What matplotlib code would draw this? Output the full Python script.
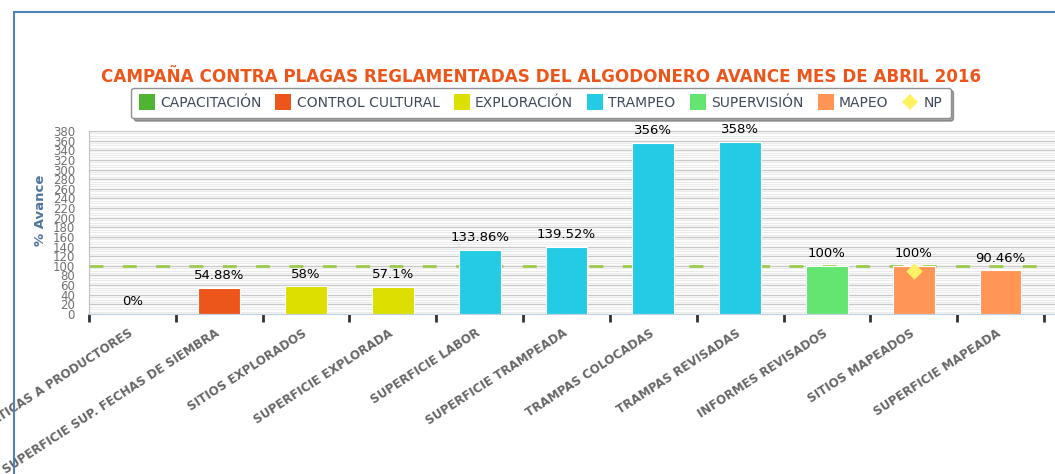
import matplotlib
matplotlib.use("Agg")
import matplotlib.pyplot as plt
from matplotlib.patches import Rectangle
from matplotlib.lines import Line2D
import numpy as np

categories = ["PLATICAS A PRODUCTORES", "SUPERFICIE SUP. FECHAS DE SIEMBRA",
              "SITIOS EXPLORADOS", "SUPERFICIE EXPLORADA", "SUPERFICIE LABOR",
              "SUPERFICIE TRAMPEADA", "TRAMPAS COLOCADAS", "TRAMPAS REVISADAS",
              "INFORMES REVISADOS", "SITIOS MAPEADOS", "SUPERFICIE MAPEADA"]
values = [0, 54.88, 58, 57.1, 133.86, 139.52, 356, 358, 100, 100, 90.46]
value_labels = ["0%", "54.88%", "58%", "57.1%", "133.86%", "139.52%", "356%",
                "358%", "100%", "100%", "90.46%"]
series_of = ["CAPACITACIÓN", "CONTROL CULTURAL", "EXPLORACIÓN", "EXPLORACIÓN",
             "TRAMPEO", "TRAMPEO", "TRAMPEO", "TRAMPEO", "SUPERVISIÓN",
             "MAPEO", "MAPEO"]
series_names = ["CAPACITACIÓN", "CONTROL CULTURAL", "EXPLORACIÓN", "TRAMPEO",
                "SUPERVISIÓN", "MAPEO", "NP"]
series_colors = {"CAPACITACIÓN": "#50B432", "CONTROL CULTURAL": "#ED561B",
                 "EXPLORACIÓN": "#DDDF00", "TRAMPEO": "#24CBE5",
                 "SUPERVISIÓN": "#64E572", "MAPEO": "#FF9655", "NP": "#FFF263"}
np_category = 9
np_value = 90
target = 100
yticks = list(range(0, 381, 20))

W, H = 1055, 474
fig = plt.figure(figsize=(W / 100, H / 100), dpi=100)

# outer frame (blue)
fig.patches.append(Rectangle((14 / W, -0.1), 2, (H - 12) / H + 0.1,
                             transform=fig.transFigure, fill=False,
                             edgecolor="#4F81BD", linewidth=1.5))

left, right, top, bottom = 89, 1055, 131, 314
ax = fig.add_axes([left / W, (H - bottom) / H, (right - left) / W, (bottom - top) / H])

n = len(categories)
ax.set_xlim(-0.5, n - 0.5 + 11 / 86.8)
ax.set_ylim(0, 380)

# gridlines
for y in np.arange(0, 381, 5):
    if y % 20 != 0:
        ax.axhline(y, color="#EBEBEB", linewidth=0.8, zorder=0)
for y in yticks:
    ax.axhline(y, color="#C8C8C8", linewidth=1.0, zorder=0.5)

x = np.arange(n)
colors = [series_colors[s] for s in series_of]
ax.bar(x, values, width=0.48, color=colors, edgecolor="white", linewidth=0.8, zorder=2)

ax.axhline(target, color="#9CCB4A", linewidth=2, linestyle=(0, (5, 7)), zorder=1.5)

for xi, v, lab in zip(x, values, value_labels):
    ax.annotate(lab, (xi, v), xytext=(0, 4), textcoords="offset points",
                ha="center", va="bottom", fontsize=9.5, color="black", zorder=4)

ax.scatter([np_category], [np_value], marker="D", s=70, color=series_colors["NP"],
           zorder=5, linewidths=0)

for s in ["top", "right"]:
    ax.spines[s].set_visible(False)
ax.spines["left"].set_color("#C0C0C0")
ax.spines["bottom"].set_color("#C0D0E0")

ax.set_yticks(yticks)
ax.set_yticklabels([str(t) for t in yticks], fontsize=8.5, color="#707070")
ax.tick_params(axis="y", length=0, pad=10)

ax.set_xticks(x)
ax.set_xticklabels([])
ax.tick_params(axis="x", which="major", length=0)
ax.set_xticks(np.arange(-0.5, n, 1), minor=True)
ax.tick_params(axis="x", which="minor", length=6, width=2, color="#333333", direction="out")

for xi, c in zip(x, categories):
    ax.annotate(c, (xi, 0), xytext=(-3, -9), textcoords="offset points",
                rotation=33, rotation_mode="anchor", ha="right", va="top",
                fontsize=8.6, fontweight="bold", color="#666666", annotation_clip=False)

fig.text(40 / W, 1 - 210 / H, "% Avance", rotation=90, ha="center", va="center",
         fontsize=9.5, fontweight="bold", color="#4D759E")

fig.text(541 / W, 1 - 77 / H,
         "CAMPAÑA CONTRA PLAGAS REGLAMENTADAS DEL ALGODONERO AVANCE MES DE ABRIL 2016",
         ha="center", va="center", fontsize=12.1, fontweight="bold", color="#ED561B")

# legend
handles = []
for s in series_names:
    if s == "NP":
        handles.append(Line2D([], [], marker="D", linestyle="none", markersize=8,
                              markerfacecolor=series_colors[s], markeredgewidth=0))
    else:
        handles.append(Line2D([], [], marker="s", linestyle="none", markersize=11,
                              markerfacecolor=series_colors[s], markeredgewidth=0))
leg = fig.legend(handles, series_names, loc="center", bbox_to_anchor=(541 / W, 1 - 103 / H),
                 ncol=len(series_names), frameon=True, fancybox=True, shadow=True,
                 fontsize=10, handlelength=1.0, handletextpad=0.45, columnspacing=1.1,
                 borderpad=0.6, edgecolor="#909090")
for t in leg.get_texts():
    t.set_color("#3E4A5A")

fig.savefig("out.png", dpi=100)
